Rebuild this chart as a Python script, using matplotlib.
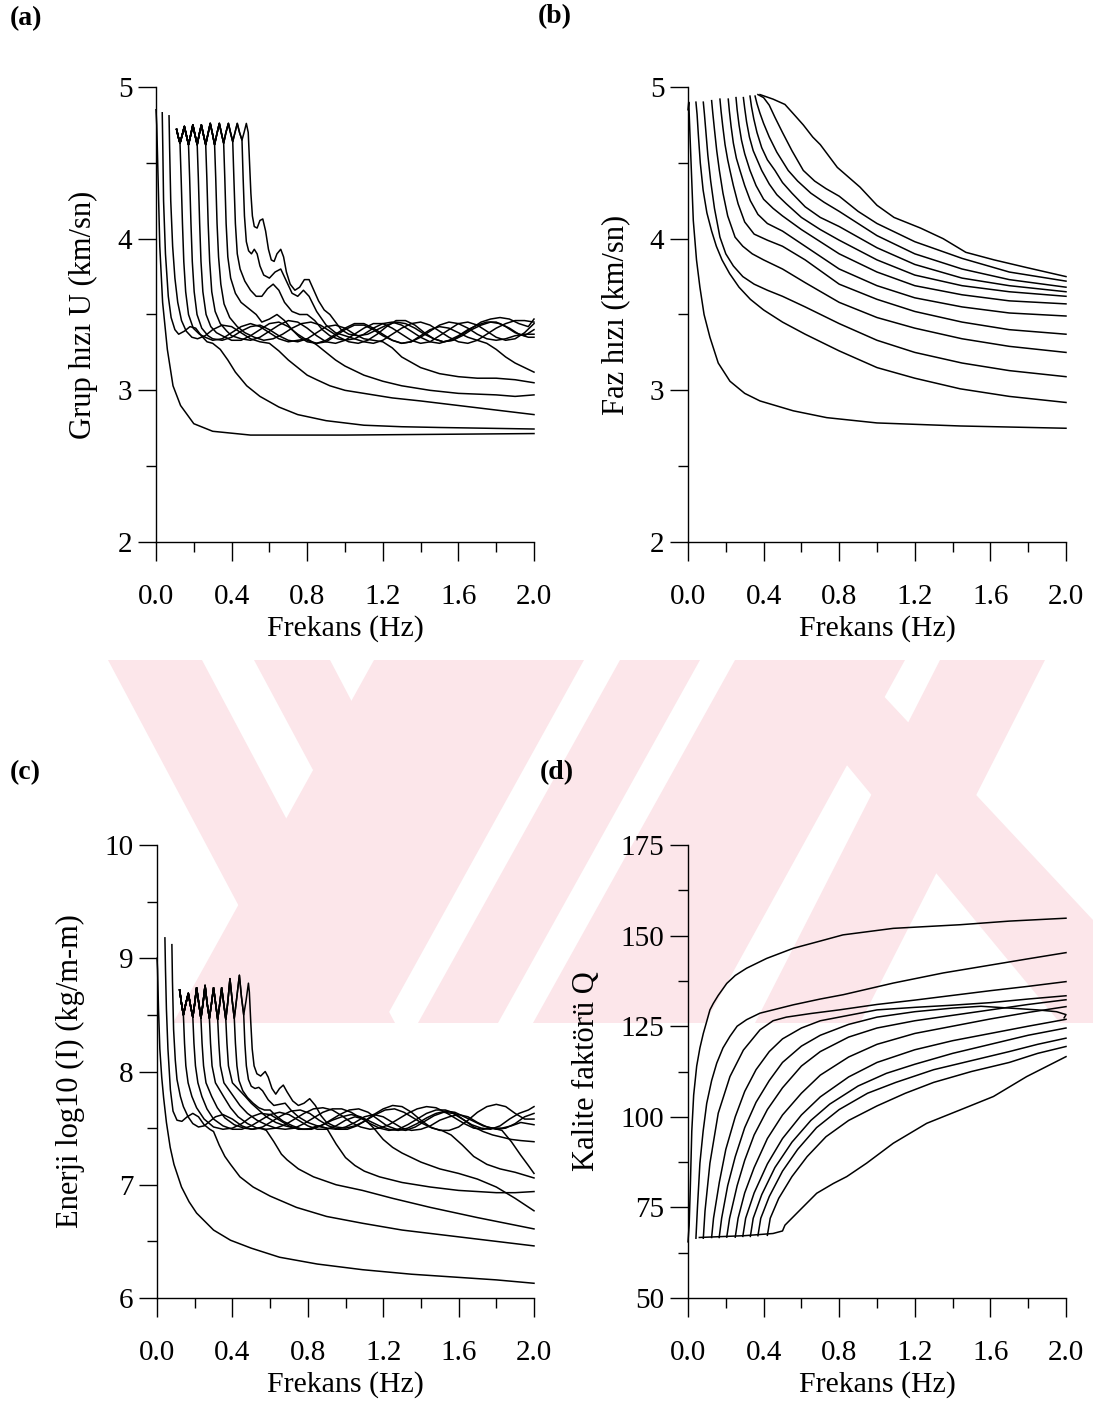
import matplotlib
matplotlib.use("Agg")
import matplotlib.pyplot as plt
from matplotlib.patches import Polygon
from matplotlib.ticker import MultipleLocator, FormatStrFormatter

plt.rcParams['font.family'] = ['Liberation Serif', 'DejaVu Serif']

# ---------------- (a) Grup hizi U ----------------
# shared ripple on the 4.7 km/s shelf (curves 4..12 follow it up to their drop)
grup_top_x = [0.109, 0.118, 0.127, 0.138, 0.15, 0.161, 0.172, 0.183, 0.195, 0.207, 0.218, 0.229,
              0.24, 0.252, 0.263, 0.275, 0.287, 0.299, 0.31, 0.322, 0.335, 0.347, 0.358, 0.37,
              0.383, 0.394, 0.406, 0.418, 0.43, 0.442, 0.455, 0.466, 0.478, 0.488]
grup_top_y = [4.72, 4.67, 4.63, 4.68, 4.74, 4.68, 4.62, 4.68, 4.75, 4.68, 4.62, 4.69,
              4.75, 4.68, 4.62, 4.69, 4.76, 4.69, 4.62, 4.69, 4.76, 4.69, 4.63, 4.7,
              4.76, 4.7, 4.64, 4.7, 4.76, 4.7, 4.65, 4.7, 4.76, 4.7]
grup_top_n = [0, 0, 0, 3, 7, 11, 15, 19, 23, 27, 31, 34]
grup_x = [
    [0.0, 0.004, 0.01, 0.02, 0.035, 0.06, 0.09, 0.13, 0.2, 0.3, 0.5, 1.0, 1.5, 2.0],
    [0.033, 0.036, 0.04, 0.05, 0.065, 0.08, 0.1, 0.12, 0.15, 0.18, 0.21, 0.24, 0.27, 0.3, 0.34, 0.38,
     0.42, 0.48, 0.55, 0.65, 0.75, 0.9, 1.1, 1.3, 1.5, 1.75, 2.0],
    [0.069, 0.072, 0.078, 0.088, 0.1, 0.115, 0.135, 0.16, 0.19, 0.22, 0.26, 0.3, 0.35, 0.4, 0.45, 0.5,
     0.55, 0.6, 0.65, 0.7, 0.75, 0.8, 0.85, 0.92, 1.0, 1.1, 1.25, 1.4, 1.6, 1.8, 2.0],
    [0.133, 0.14, 0.147, 0.157, 0.172, 0.197, 0.23, 0.26, 0.3, 0.35, 0.4, 0.45, 0.5, 0.55, 0.6, 0.65,
     0.7, 0.75, 0.8, 0.85, 0.9, 0.95, 1.0, 1.1, 1.2, 1.3, 1.45, 1.6, 1.8, 1.9, 2.0],
    [0.178, 0.185, 0.192, 0.202, 0.217, 0.242, 0.275, 0.3, 0.35, 0.4, 0.45, 0.5, 0.55, 0.6, 0.65, 0.7,
     0.75, 0.8, 0.85, 0.9, 0.95, 1.0, 1.05, 1.1, 1.15, 1.2, 1.25, 1.3, 1.4, 1.5, 1.6, 1.7, 1.8, 1.9, 2.0],
    [0.224, 0.231, 0.238, 0.248, 0.265, 0.29, 0.32, 0.35, 0.4, 0.45, 0.5, 0.55, 0.6, 0.65, 0.7, 0.75,
     0.8, 0.85, 0.9, 0.95, 1.0, 1.05, 1.1, 1.15, 1.2, 1.25, 1.3, 1.35, 1.4, 1.45, 1.5, 1.55, 1.6, 1.65,
     1.7, 1.75, 1.8, 1.85, 1.9, 1.95, 2.0],
    [0.269, 0.276, 0.284, 0.295, 0.313, 0.34, 0.375, 0.4, 0.45, 0.5, 0.55, 0.6, 0.65, 0.7, 0.75, 0.8,
     0.85, 0.9, 0.95, 1.0, 1.05, 1.1, 1.15, 1.2, 1.25, 1.3, 1.35, 1.4, 1.45, 1.5, 1.55, 1.6, 1.65, 1.7,
     1.75, 1.8, 1.85, 1.9, 1.95, 2.0],
    [0.316, 0.323, 0.331, 0.343, 0.36, 0.39, 0.43, 0.47, 0.52, 0.57, 0.62, 0.67, 0.72, 0.77, 0.82, 0.87,
     0.92, 0.97, 1.02, 1.07, 1.12, 1.17, 1.22, 1.27, 1.32, 1.37, 1.42, 1.47, 1.52, 1.57, 1.62, 1.67,
     1.72, 1.77, 1.82, 1.87, 1.92, 1.97, 2.0],
    [0.364, 0.371, 0.38, 0.395, 0.42, 0.45, 0.49, 0.53, 0.56, 0.6, 0.64, 0.68, 0.72, 0.76, 0.8, 0.85,
     0.9, 0.95, 1.0, 1.05, 1.1, 1.15, 1.2, 1.25, 1.3, 1.35, 1.4, 1.45, 1.5, 1.55, 1.6, 1.65, 1.7, 1.75,
     1.8, 1.85, 1.9, 1.95, 2.0],
    [0.412, 0.42, 0.43, 0.445, 0.47, 0.5, 0.53, 0.56, 0.59, 0.62, 0.65, 0.68, 0.72, 0.76, 0.8, 0.84,
     0.88, 0.92, 0.96, 1.0, 1.05, 1.1, 1.15, 1.2, 1.25, 1.3, 1.35, 1.4, 1.45, 1.5, 1.55, 1.6, 1.65, 1.7,
     1.75, 1.8, 1.85, 1.9, 1.95, 2.0],
    [0.461, 0.468, 0.478, 0.49, 0.505, 0.52, 0.535, 0.55, 0.57, 0.6, 0.63, 0.66, 0.69, 0.72, 0.75, 0.78,
     0.81, 0.85, 0.9, 0.95, 1.0, 1.05, 1.1, 1.15, 1.2, 1.25, 1.3, 1.35, 1.4, 1.45, 1.5, 1.55, 1.6, 1.65,
     1.7, 1.75, 1.8, 1.85, 1.9, 1.95, 2.0],
    [0.495, 0.502, 0.51, 0.52, 0.535, 0.55, 0.565, 0.58, 0.595, 0.61, 0.625, 0.64, 0.66, 0.675, 0.69,
     0.71, 0.735, 0.76, 0.785, 0.81, 0.835, 0.86, 0.89, 0.92, 0.95, 0.98, 1.02, 1.07, 1.12, 1.17, 1.22,
     1.27, 1.32, 1.37, 1.42, 1.47, 1.52, 1.57, 1.62, 1.67, 1.72, 1.77, 1.82, 1.87, 1.92, 1.97, 2.0],
]
grup_y = [
    [4.85, 4.75, 4.45, 3.95, 3.58, 3.27, 3.03, 2.9, 2.78, 2.73, 2.705, 2.705, 2.71, 2.715],
    [4.83, 4.6, 4.25, 3.9, 3.62, 3.48, 3.4, 3.37, 3.39, 3.42, 3.41, 3.36, 3.32, 3.31, 3.27, 3.2,
     3.12, 3.03, 2.96, 2.89, 2.84, 2.8, 2.77, 2.76, 2.755, 2.75, 2.745],
    [4.81, 4.6, 4.25, 3.95, 3.74, 3.58, 3.46, 3.39, 3.35, 3.34, 3.36, 3.4, 3.43, 3.42, 3.38, 3.34,
     3.32, 3.31, 3.26, 3.2, 3.15, 3.1, 3.07, 3.03, 3.0, 2.98, 2.95, 2.93, 2.9, 2.87, 2.84],
    [4.4, 4.1, 3.85, 3.65, 3.5, 3.41, 3.37, 3.35, 3.33, 3.34, 3.38, 3.42, 3.44, 3.42, 3.38, 3.34,
     3.32, 3.33, 3.34, 3.3, 3.25, 3.2, 3.16, 3.1, 3.06, 3.03, 3.0, 2.98, 2.97, 2.96, 2.97],
    [4.4, 4.1, 3.85, 3.65, 3.5, 3.41, 3.36, 3.34, 3.33, 3.35, 3.39, 3.42, 3.43, 3.4, 3.36, 3.33,
     3.32, 3.34, 3.38, 3.42, 3.43, 3.41, 3.37, 3.34, 3.33, 3.32, 3.28, 3.22, 3.15, 3.11, 3.09, 3.08,
     3.08, 3.07, 3.05],
    [4.4, 4.1, 3.85, 3.65, 3.5, 3.42, 3.38, 3.36, 3.33, 3.33, 3.36, 3.4, 3.44, 3.45, 3.42, 3.37,
     3.33, 3.31, 3.32, 3.36, 3.4, 3.43, 3.43, 3.4, 3.36, 3.33, 3.31, 3.32, 3.36, 3.4, 3.42, 3.41,
     3.38, 3.35, 3.33, 3.31, 3.27, 3.22, 3.18, 3.15, 3.12],
    [4.4, 4.1, 3.85, 3.65, 3.52, 3.44, 3.39, 3.36, 3.34, 3.33, 3.35, 3.39, 3.43, 3.46, 3.45, 3.41,
     3.36, 3.32, 3.31, 3.33, 3.37, 3.41, 3.44, 3.44, 3.41, 3.37, 3.33, 3.31, 3.32, 3.36, 3.4, 3.44,
     3.45, 3.43, 3.39, 3.35, 3.33, 3.34, 3.38, 3.44],
    [4.4, 4.1, 3.88, 3.7, 3.57, 3.48, 3.42, 3.38, 3.35, 3.33, 3.34, 3.37, 3.41, 3.44, 3.45, 3.43,
     3.39, 3.35, 3.32, 3.31, 3.33, 3.37, 3.42, 3.46, 3.46, 3.43, 3.38, 3.34, 3.32, 3.33, 3.36, 3.4,
     3.43, 3.45, 3.44, 3.41, 3.37, 3.35, 3.35],
    [4.4, 4.1, 3.88, 3.74, 3.64, 3.58, 3.54, 3.5, 3.45, 3.47, 3.5, 3.46, 3.4, 3.35, 3.32, 3.31,
     3.33, 3.37, 3.41, 3.44, 3.44, 3.41, 3.37, 3.33, 3.31, 3.32, 3.35, 3.39, 3.43, 3.45, 3.44, 3.41,
     3.37, 3.34, 3.33, 3.34, 3.36, 3.37, 3.37],
    [4.4, 4.1, 3.9, 3.8, 3.72, 3.66, 3.62, 3.62, 3.67, 3.7, 3.66, 3.58, 3.52, 3.5, 3.5, 3.46,
     3.4, 3.36, 3.34, 3.33, 3.34, 3.37, 3.41, 3.44, 3.45, 3.43, 3.39, 3.35, 3.32, 3.31, 3.33, 3.36,
     3.4, 3.43, 3.45, 3.45, 3.42, 3.38, 3.36, 3.4],
    [4.4, 4.15, 3.98, 3.92, 3.9, 3.93, 3.9, 3.82, 3.76, 3.74, 3.78, 3.8, 3.72, 3.64, 3.62, 3.66,
     3.62, 3.52, 3.43, 3.38, 3.36, 3.34, 3.32, 3.31, 3.33, 3.37, 3.41, 3.44, 3.45, 3.43, 3.39, 3.35,
     3.32, 3.31, 3.33, 3.37, 3.41, 3.44, 3.46, 3.46, 3.45],
    [4.5, 4.3, 4.15, 4.08, 4.07, 4.12, 4.13, 4.05, 3.93, 3.86, 3.85, 3.9, 3.93, 3.88, 3.78, 3.7,
     3.66, 3.68, 3.73, 3.73, 3.66, 3.59, 3.53, 3.5, 3.45, 3.4, 3.37, 3.36, 3.37, 3.4, 3.43, 3.45,
     3.44, 3.41, 3.37, 3.34, 3.32, 3.33, 3.37, 3.41, 3.45, 3.47, 3.48, 3.47, 3.44, 3.42, 3.47],
]

# ---------------- (b) Faz hizi ----------------
faz_x = [
    [0.0, 0.004, 0.01, 0.028, 0.045, 0.063, 0.085, 0.116, 0.16, 0.222, 0.3, 0.381, 0.557, 0.734, 1.0,
     1.44, 2.0],
    [0.042, 0.048, 0.055, 0.065, 0.08, 0.1, 0.125, 0.15, 0.18, 0.22, 0.27, 0.33, 0.4, 0.5, 0.62, 0.8,
     1.0, 1.2, 1.44, 1.7, 2.0],
    [0.081, 0.087, 0.095, 0.105, 0.12, 0.14, 0.169, 0.2, 0.24, 0.29, 0.35, 0.42, 0.5, 0.62, 0.8, 1.0,
     1.2, 1.45, 1.7, 2.0],
    [0.125, 0.131, 0.14, 0.152, 0.166, 0.185, 0.21, 0.249, 0.29, 0.34, 0.4, 0.5, 0.62, 0.8, 1.0, 1.2,
     1.45, 1.7, 2.0],
    [0.169, 0.175, 0.184, 0.196, 0.21, 0.222, 0.24, 0.265, 0.3, 0.35, 0.42, 0.5, 0.62, 0.8, 1.0, 1.2,
     1.45, 1.7, 2.0],
    [0.213, 0.219, 0.228, 0.24, 0.256, 0.275, 0.3, 0.33, 0.37, 0.42, 0.5, 0.62, 0.8, 1.0, 1.2, 1.45,
     1.7, 2.0],
    [0.254, 0.26, 0.27, 0.283, 0.3, 0.328, 0.36, 0.4, 0.45, 0.5, 0.6, 0.7, 0.8, 1.0, 1.2, 1.45, 1.7, 2.0],
    [0.293, 0.3, 0.31, 0.325, 0.345, 0.39, 0.43, 0.47, 0.52, 0.6, 0.7, 0.8, 1.0, 1.2, 1.45, 1.7, 2.0],
    [0.328, 0.336, 0.348, 0.365, 0.39, 0.42, 0.46, 0.5, 0.55, 0.62, 0.7, 0.8, 1.0, 1.2, 1.45, 1.7, 2.0],
    [0.355, 0.365, 0.38, 0.4, 0.43, 0.47, 0.5, 0.53, 0.58, 0.65, 0.72, 0.8, 1.0, 1.2, 1.45, 1.7, 2.0],
    [0.37, 0.4, 0.43, 0.46, 0.5, 0.55, 0.61, 0.67, 0.73, 0.8, 0.9, 1.0, 1.2, 1.45, 1.7, 2.0],
    [0.381, 0.45, 0.513, 0.56, 0.61, 0.66, 0.7, 0.79, 0.91, 1.0, 1.09, 1.23, 1.35, 1.47, 1.62, 1.79, 2.0],
]
faz_y = [
    [4.85, 4.9, 4.7, 4.12, 3.86, 3.68, 3.5, 3.35, 3.18, 3.06, 2.98, 2.93, 2.865, 2.82, 2.785, 2.765,
     2.75],
    [4.9, 4.82, 4.68, 4.5, 4.32, 4.17, 4.05, 3.95, 3.86, 3.77, 3.68, 3.6, 3.53, 3.45, 3.37, 3.26,
     3.15, 3.08, 3.01, 2.96, 2.92],
    [4.9, 4.82, 4.7, 4.55, 4.38, 4.2, 4.01, 3.9, 3.82, 3.75, 3.7, 3.66, 3.62, 3.55, 3.44, 3.33,
     3.25, 3.18, 3.13, 3.09],
    [4.91, 4.83, 4.72, 4.58, 4.45, 4.3, 4.15, 4.01, 3.95, 3.9, 3.86, 3.8, 3.71, 3.58, 3.48, 3.41,
     3.34, 3.29, 3.25],
    [4.92, 4.84, 4.74, 4.62, 4.52, 4.45, 4.35, 4.23, 4.11, 4.03, 3.99, 3.95, 3.86, 3.7, 3.6, 3.52,
     3.45, 3.4, 3.37],
    [4.92, 4.84, 4.74, 4.63, 4.53, 4.45, 4.35, 4.25, 4.16, 4.1, 4.05, 3.95, 3.8, 3.69, 3.61, 3.55,
     3.51, 3.49],
    [4.93, 4.85, 4.75, 4.65, 4.56, 4.45, 4.35, 4.26, 4.2, 4.15, 4.06, 3.98, 3.9, 3.78, 3.69, 3.63,
     3.59, 3.57],
    [4.93, 4.86, 4.77, 4.67, 4.58, 4.45, 4.36, 4.29, 4.23, 4.14, 4.06, 3.99, 3.86, 3.76, 3.69, 3.65,
     3.62],
    [4.94, 4.87, 4.79, 4.7, 4.6, 4.52, 4.45, 4.37, 4.3, 4.21, 4.14, 4.08, 3.94, 3.83, 3.74, 3.69, 3.65],
    [4.94, 4.89, 4.83, 4.76, 4.67, 4.57, 4.51, 4.45, 4.38, 4.3, 4.24, 4.18, 4.02, 3.9, 3.8, 3.73, 3.68],
    [4.95, 4.93, 4.88, 4.8, 4.7, 4.58, 4.45, 4.38, 4.33, 4.28, 4.18, 4.1, 3.98, 3.87, 3.78, 3.72],
    [4.95, 4.92, 4.885, 4.82, 4.75, 4.67, 4.62, 4.47, 4.34, 4.22, 4.14, 4.07, 4.0, 3.91, 3.86, 3.81,
     3.75],
]

# ---------------- (c) Enerji log10(I) ----------------
enerji_top_x = [0.12, 0.13, 0.14, 0.153, 0.166, 0.178, 0.19, 0.2, 0.21, 0.222, 0.233, 0.244,
                0.255, 0.266, 0.278, 0.289, 0.3, 0.311, 0.322, 0.333, 0.343, 0.354, 0.365, 0.376,
                0.387, 0.398, 0.41, 0.423, 0.437, 0.448, 0.46, 0.472, 0.485, 0.49]
enerji_top_y = [8.72, 8.6, 8.5, 8.6, 8.69, 8.58, 8.48, 8.6, 8.74, 8.6, 8.47, 8.6,
                8.76, 8.6, 8.47, 8.6, 8.74, 8.6, 8.46, 8.6, 8.74, 8.6, 8.46, 8.62,
                8.82, 8.64, 8.47, 8.65, 8.85, 8.66, 8.5, 8.62, 8.78, 8.7]
enerji_top_n = [0, 0, 0, 3, 7, 11, 15, 19, 23, 27, 31, 34]
enerji_x = [
    [0.0, 0.003, 0.008, 0.015, 0.025, 0.035, 0.05, 0.07, 0.09, 0.13, 0.17, 0.21, 0.3, 0.39, 0.5, 0.65,
     0.85, 1.09, 1.35, 1.62, 1.8, 2.0],
    [0.042, 0.045, 0.05, 0.058, 0.071, 0.085, 0.106, 0.132, 0.16, 0.19, 0.22, 0.25, 0.28, 0.3, 0.33,
     0.36, 0.39, 0.44, 0.51, 0.6, 0.74, 0.9, 1.09, 1.3, 1.45, 1.7, 2.0],
    [0.079, 0.082, 0.088, 0.097, 0.106, 0.124, 0.14, 0.165, 0.19, 0.22, 0.25, 0.28, 0.31, 0.35, 0.4,
     0.45, 0.5, 0.55, 0.58, 0.62, 0.66, 0.69, 0.75, 0.83, 0.95, 1.09, 1.25, 1.45, 1.7, 2.0],
    [0.146, 0.153, 0.165, 0.185, 0.21, 0.25, 0.3, 0.35, 0.4, 0.45, 0.5, 0.55, 0.6, 0.65, 0.7, 0.75,
     0.8, 0.85, 0.9, 0.95, 1.0, 1.05, 1.1, 1.18, 1.3, 1.45, 1.6, 1.8, 1.9, 2.0],
    [0.196, 0.204, 0.217, 0.238, 0.265, 0.3, 0.35, 0.4, 0.45, 0.5, 0.55, 0.6, 0.65, 0.7, 0.75, 0.8,
     0.85, 0.9, 0.95, 1.0, 1.05, 1.1, 1.15, 1.2, 1.25, 1.3, 1.4, 1.5, 1.6, 1.7, 1.8, 1.9, 2.0],
    [0.239, 0.247, 0.26, 0.29, 0.32, 0.36, 0.41, 0.46, 0.51, 0.56, 0.61, 0.66, 0.71, 0.76, 0.81, 0.86,
     0.91, 0.96, 1.01, 1.06, 1.11, 1.16, 1.21, 1.26, 1.31, 1.36, 1.41, 1.46, 1.51, 1.56, 1.62, 1.68,
     1.75, 1.82, 1.9, 2.0],
    [0.284, 0.292, 0.31, 0.353, 0.39, 0.43, 0.48, 0.53, 0.58, 0.63, 0.68, 0.73, 0.78, 0.83, 0.88, 0.93,
     0.98, 1.03, 1.08, 1.13, 1.18, 1.23, 1.28, 1.33, 1.38, 1.43, 1.48, 1.53, 1.58, 1.63, 1.68, 1.73,
     1.78, 1.83, 1.88, 1.93, 1.97, 2.0],
    [0.328, 0.336, 0.355, 0.406, 0.44, 0.48, 0.53, 0.58, 0.63, 0.68, 0.73, 0.78, 0.83, 0.88, 0.93, 0.98,
     1.03, 1.08, 1.13, 1.18, 1.23, 1.28, 1.33, 1.38, 1.43, 1.48, 1.53, 1.58, 1.63, 1.68, 1.73, 1.78,
     1.83, 1.88, 1.93, 2.0],
    [0.371, 0.379, 0.4, 0.468, 0.5, 0.54, 0.58, 0.63, 0.68, 0.73, 0.78, 0.83, 0.88, 0.93, 0.98, 1.03,
     1.08, 1.13, 1.18, 1.23, 1.28, 1.33, 1.38, 1.43, 1.48, 1.53, 1.58, 1.63, 1.68, 1.73, 1.78, 1.83,
     1.88, 1.93, 2.0],
    [0.416, 0.424, 0.435, 0.455, 0.48, 0.51, 0.54, 0.57, 0.6, 0.63, 0.67, 0.72, 0.77, 0.82, 0.87, 0.92,
     0.97, 1.02, 1.07, 1.12, 1.17, 1.22, 1.27, 1.32, 1.37, 1.42, 1.47, 1.52, 1.57, 1.62, 1.67, 1.72,
     1.77, 1.82, 1.87, 1.92, 1.97, 2.0],
    [0.466, 0.474, 0.485, 0.5, 0.52, 0.54, 0.56, 0.59, 0.62, 0.65, 0.68, 0.71, 0.75, 0.8, 0.85, 0.9,
     0.95, 1.0, 1.05, 1.1, 1.15, 1.2, 1.25, 1.3, 1.35, 1.4, 1.45, 1.5, 1.55, 1.6, 1.65, 1.7, 1.75, 1.8,
     1.85, 1.9, 1.95, 2.0],
    [0.497, 0.505, 0.515, 0.53, 0.55, 0.574, 0.59, 0.61, 0.63, 0.65, 0.67, 0.69, 0.72, 0.75, 0.78, 0.81,
     0.84, 0.87, 0.9, 0.95, 1.0, 1.05, 1.1, 1.15, 1.2, 1.25, 1.3, 1.35, 1.4, 1.45, 1.5, 1.55, 1.6, 1.65,
     1.7, 1.75, 1.8, 1.85, 1.9, 1.95, 2.0],
]
enerji_y = [
    [9.0, 8.9, 8.55, 8.2, 7.95, 7.77, 7.55, 7.33, 7.18, 6.98, 6.85, 6.75, 6.6, 6.51, 6.44, 6.36,
     6.3, 6.25, 6.21, 6.18, 6.16, 6.13],
    [9.18, 8.9, 8.55, 8.2, 7.84, 7.65, 7.57, 7.56, 7.6, 7.63, 7.6, 7.53, 7.49, 7.47, 7.35,
     7.25, 7.18, 7.07, 6.98, 6.9, 6.8, 6.72, 6.66, 6.6, 6.57, 6.52, 6.46],
    [9.12, 8.8, 8.37, 8.1, 7.93, 7.78, 7.69, 7.6, 7.54, 7.51, 7.52, 7.56, 7.6, 7.62, 7.58,
     7.52, 7.49, 7.5, 7.48, 7.38, 7.27, 7.22, 7.14, 7.07, 7.0, 6.95, 6.88, 6.8, 6.71, 6.61],
    [8.25, 8.05, 7.9, 7.78, 7.68, 7.58, 7.51, 7.49, 7.5, 7.54, 7.6, 7.63, 7.62, 7.57, 7.52, 7.49,
     7.49, 7.52, 7.5, 7.36, 7.24, 7.17, 7.12, 7.07, 7.02, 6.98, 6.95, 6.93, 6.93, 6.94],
    [8.25, 8.05, 7.9, 7.78, 7.67, 7.58, 7.52, 7.49, 7.49, 7.52, 7.57, 7.62, 7.64, 7.62, 7.57, 7.52,
     7.49, 7.49, 7.52, 7.57, 7.6, 7.58, 7.5, 7.4, 7.33, 7.28, 7.2, 7.14, 7.1, 7.05, 6.98, 6.88, 6.77],
    [8.25, 8.05, 7.9, 7.78, 7.68, 7.59, 7.53, 7.5, 7.49, 7.51, 7.56, 7.61, 7.65, 7.66, 7.63, 7.57,
     7.52, 7.49, 7.49, 7.52, 7.57, 7.62, 7.66, 7.67, 7.64, 7.59, 7.54, 7.5, 7.48, 7.44, 7.35, 7.25,
     7.18, 7.14, 7.11, 7.06],
    [8.25, 8.05, 7.9, 7.78, 7.68, 7.6, 7.54, 7.5, 7.49, 7.5, 7.53, 7.58, 7.63, 7.67, 7.68, 7.66,
     7.61, 7.55, 7.51, 7.49, 7.5, 7.53, 7.58, 7.63, 7.67, 7.69, 7.68, 7.64, 7.59, 7.54, 7.5, 7.49,
     7.5, 7.48, 7.38, 7.26, 7.17, 7.1],
    [8.25, 8.05, 7.9, 7.78, 7.7, 7.63, 7.57, 7.53, 7.5, 7.49, 7.5, 7.54, 7.59, 7.64, 7.67, 7.67,
     7.64, 7.59, 7.54, 7.5, 7.48, 7.49, 7.53, 7.58, 7.63, 7.66, 7.66, 7.63, 7.57, 7.51, 7.47, 7.44,
     7.42, 7.4, 7.39, 7.38],
    [8.25, 8.05, 7.9, 7.78, 7.72, 7.66, 7.6, 7.55, 7.52, 7.5, 7.49, 7.5, 7.53, 7.57, 7.6, 7.62,
     7.6, 7.56, 7.52, 7.49, 7.48, 7.5, 7.54, 7.59, 7.63, 7.65, 7.64, 7.6, 7.56, 7.52, 7.5, 7.5,
     7.52, 7.55, 7.53],
    [8.25, 8.05, 7.92, 7.83, 7.77, 7.72, 7.68, 7.66, 7.66, 7.61, 7.56, 7.52, 7.49, 7.49, 7.52, 7.57,
     7.62, 7.66, 7.67, 7.64, 7.58, 7.52, 7.49, 7.48, 7.51, 7.56, 7.61, 7.64, 7.63, 7.58, 7.53, 7.5,
     7.49, 7.52, 7.58, 7.63, 7.66, 7.69],
    [8.25, 8.05, 7.93, 7.87, 7.85, 7.86, 7.83, 7.75, 7.7, 7.71, 7.72, 7.66, 7.6, 7.55, 7.52, 7.5,
     7.49, 7.51, 7.55, 7.6, 7.62, 7.6, 7.55, 7.5, 7.48, 7.49, 7.52, 7.57, 7.6, 7.62, 7.6, 7.55, 7.51,
     7.49, 7.5, 7.54, 7.6, 7.63],
    [8.45, 8.2, 8.05, 7.98, 7.96, 8.0, 7.95, 7.85, 7.8, 7.85, 7.88, 7.82, 7.74, 7.7, 7.72, 7.76,
     7.7, 7.61, 7.55, 7.51, 7.5, 7.52, 7.56, 7.62, 7.67, 7.7, 7.69, 7.64, 7.57, 7.51, 7.48, 7.48,
     7.51, 7.57, 7.64, 7.69, 7.71, 7.69, 7.63, 7.58, 7.58],
]

# ---------------- (d) Kalite faktoru Q ----------------
kalite_x = [
    [0.0, 0.006, 0.012, 0.02, 0.03, 0.046, 0.063, 0.081, 0.1, 0.116, 0.134, 0.16, 0.205, 0.25, 0.31,
     0.416, 0.557, 0.7, 0.82, 1.086, 1.44, 1.7, 2.0],
    [0.042, 0.05, 0.063, 0.08, 0.099, 0.125, 0.152, 0.185, 0.222, 0.26, 0.31, 0.381, 0.557, 0.7, 0.822,
     1.086, 1.351, 1.616, 1.8, 2.0],
    [0.081, 0.09, 0.116, 0.16, 0.222, 0.293, 0.381, 0.45, 0.52, 0.65, 0.8, 1.0, 1.2, 1.4, 1.6, 1.8, 2.0],
    [0.125, 0.135, 0.166, 0.2, 0.25, 0.3, 0.36, 0.43, 0.5, 0.6, 0.7, 0.85, 1.0, 1.2, 1.4, 1.6, 1.8, 2.0],
    [0.165, 0.178, 0.21, 0.25, 0.3, 0.36, 0.43, 0.5, 0.6, 0.7, 0.85, 1.0, 1.2, 1.4, 1.55, 1.7, 1.85,
     1.95, 2.0, 1.99],
    [0.205, 0.22, 0.26, 0.3, 0.35, 0.42, 0.5, 0.6, 0.7, 0.85, 1.0, 1.2, 1.4, 1.6, 1.8, 2.0],
    [0.25, 0.265, 0.3, 0.35, 0.42, 0.5, 0.6, 0.7, 0.85, 1.0, 1.2, 1.4, 1.6, 1.8, 2.0],
    [0.29, 0.305, 0.35, 0.42, 0.5, 0.6, 0.7, 0.85, 1.0, 1.2, 1.4, 1.6, 1.8, 2.0],
    [0.33, 0.345, 0.39, 0.46, 0.55, 0.65, 0.75, 0.9, 1.05, 1.2, 1.4, 1.6, 1.8, 2.0],
    [0.37, 0.385, 0.43, 0.5, 0.58, 0.68, 0.8, 0.95, 1.1, 1.3, 1.5, 1.7, 1.85, 2.0],
    [0.42, 0.435, 0.48, 0.55, 0.63, 0.73, 0.85, 1.0, 1.15, 1.3, 1.5, 1.7, 1.85, 2.0],
    [0.06, 0.3, 0.45, 0.5, 0.513, 0.593, 0.681, 0.769, 0.84, 0.945, 1.086, 1.263, 1.44, 1.616, 1.792,
     2.0],
]
kalite_y = [
    [65.5, 70, 80, 96, 106, 114, 119, 123, 126.5, 129.5, 131.3, 133.5, 136.8, 139, 141, 143.7, 146.5,
     148.5, 150.2, 152, 153, 154, 154.8],
    [66.5, 75, 87.2, 96, 103.7, 110, 114.8, 119, 122.2, 125, 126.8, 128.6, 130.9, 132.5, 133.7, 136.9,
     139.7, 142, 143.6, 145.3],
    [66.5, 74, 87.2, 101, 111.1, 118.4, 124, 126.5, 127.5, 128.5, 129.5, 131, 132.2, 133.5, 134.8, 136,
     137.3],
    [66.7, 72, 82, 91, 100, 107, 113, 118, 121.5, 124.5, 126.5, 128, 129.5, 130.2, 130.8, 131.5, 132.5,
     133.4],
    [66.7, 72, 81, 89, 97, 104, 110, 115, 119.5, 122.5, 125.5, 127.5, 129, 130, 130.5, 130, 129.5, 129,
     128.2, 127.3],
    [66.8, 72, 81, 88, 95, 102, 108, 114, 118, 122, 124.5, 126.5, 128, 129.5, 131, 132.3],
    [66.8, 72, 79, 86, 94, 100.5, 106.5, 111.5, 116.5, 120, 123, 125, 127, 128.8, 130.4],
    [67, 72, 79, 87, 94, 100.5, 105.5, 111, 115, 118.5, 121, 123, 125, 126.9],
    [67, 72, 78.5, 86, 93, 99, 103.5, 108.5, 112, 114.5, 117.5, 120, 122.5, 124.5],
    [67.2, 72, 78, 85, 91, 97, 102, 106.5, 109.5, 113, 115.5, 118, 120, 121.7],
    [67.3, 72, 77.5, 83.5, 89, 94.5, 99, 103, 106.5, 109.5, 112.5, 115, 117.5, 119.4],
    [66.7, 67.2, 67.8, 68.5, 70.1, 74.3, 78.9, 81.6, 83.5, 87.2, 92.7, 98.2, 101.9, 105.6, 111.1, 116.6],
]

freq_ticks = [0.0, 0.4, 0.8, 1.2, 1.6, 2.0]

# faint pink watermark bands (page pixels, y downward)
watermark = [
    [(108, 660), (202, 660), (395, 1023), (301, 1023)],
    [(254, 660), (330, 660), (372, 740), (313, 770)],
    [(374, 660), (584, 660), (383, 1023), (173, 1023)],
    [(620, 660), (700, 660), (498, 1023), (418, 1023)],
    [(735, 660), (905, 660), (705, 1023), (533, 1023)],
    [(940, 660), (1045, 660), (860, 1023), (755, 1023)],
    [(760, 660), (850, 660), (1093, 920), (1093, 1023), (1060, 1023)],
]

W, H = 1093, 1407
fig = plt.figure(figsize=(W / 100, H / 100), dpi=100)

bg = fig.add_axes([0, 0, 1, 1], zorder=-5)
bg.set_xlim(0, W)
bg.set_ylim(H, 0)
bg.axis('off')
for poly in watermark:
    bg.add_patch(Polygon(poly, closed=True, facecolor='#fce6ea', edgecolor='none'))


def add_panel(left, top, right, bottom, ylim, ymajor, ylabel):
    ax = fig.add_axes([left / W, 1 - bottom / H, (right - left) / W, (bottom - top) / H])
    ax.set_facecolor('none')
    ax.set_xlim(0, 2.0)
    ax.set_ylim(*ylim)
    for s in ['top', 'right']:
        ax.spines[s].set_visible(False)
    for s in ['left', 'bottom']:
        ax.spines[s].set_linewidth(1.0)
    ax.set_xticks(freq_ticks)
    ax.xaxis.set_minor_locator(MultipleLocator(0.2))
    ax.xaxis.set_major_formatter(FormatStrFormatter('%.1f'))
    ax.yaxis.set_major_locator(MultipleLocator(ymajor))
    ax.yaxis.set_minor_locator(MultipleLocator(ymajor / 2))
    ax.tick_params(which='major', direction='out', length=13, width=1.0, labelsize=21)
    ax.tick_params(which='minor', direction='out', length=7, width=1.0)
    ax.tick_params(axis='x', which='major', length=14, pad=16)
    ax.tick_params(axis='y', which='major', pad=4)
    ax.set_xlabel('Frekans (Hz)', fontsize=21.5, labelpad=4)
    ax.set_ylabel(ylabel, fontsize=22, labelpad=14)
    return ax


def draw(ax, xs, ys, top_x=None, top_y=None, top_n=None):
    for i, (x, y) in enumerate(zip(xs, ys)):
        if top_n is not None and top_n[i] > 0:
            x = top_x[:top_n[i]] + x
            y = top_y[:top_n[i]] + y
        ax.plot(x, y, color='black', lw=1.1, clip_on=False)


ax_a = add_panel(156, 87, 534, 542, (2, 5), 1, 'Grup hızı U (km/sn)')
draw(ax_a, grup_x, grup_y, grup_top_x, grup_top_y, grup_top_n)

ax_b = add_panel(688, 87, 1066, 542, (2, 5), 1, 'Faz hızı (km/sn)')
draw(ax_b, faz_x, faz_y)

ax_c = add_panel(157, 845, 534, 1298, (6, 10), 1, 'Enerji log10 (I) (kg/m-m)')
draw(ax_c, enerji_x, enerji_y, enerji_top_x, enerji_top_y, enerji_top_n)

ax_d = add_panel(688, 845, 1066, 1298, (50, 175), 25, 'Kalite faktörü Q')
draw(ax_d, kalite_x, kalite_y)

for lab, px, py in [('(a)', 10, 6), ('(b)', 538, 4), ('(c)', 10, 760), ('(d)', 540, 760)]:
    fig.text(px / W, 1 - py / H, lab, fontsize=20, fontweight='bold', va='top', ha='left')

fig.savefig('out.png', dpi=100)
